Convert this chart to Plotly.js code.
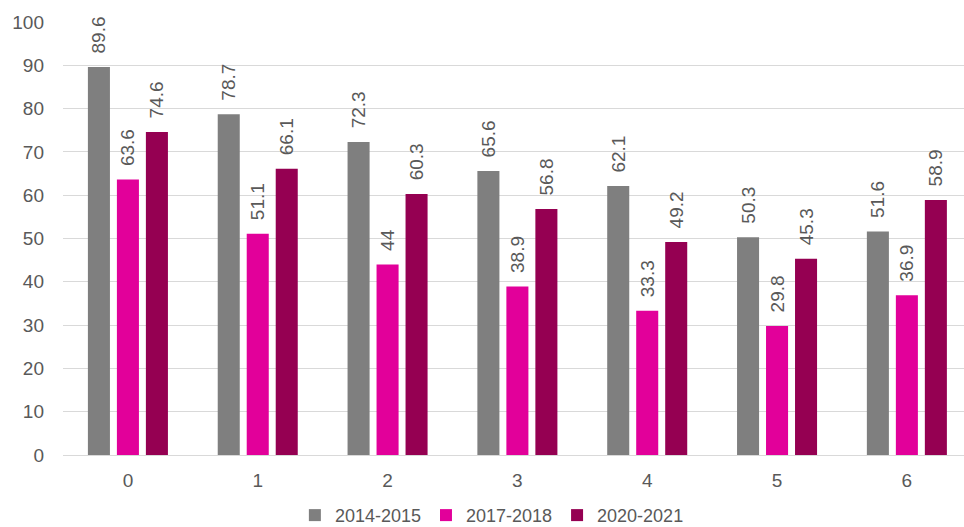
<!DOCTYPE html>
<html><head><meta charset="utf-8">
<script src="https://cdn.plot.ly/plotly-3.0.1.min.js"></script>
<style>html,body{margin:0;padding:0;background:#fff}#chart{width:964px;height:527px}</style>
</head><body><div id="chart"></div>
<script>
const categories = ['0','1','2','3','4','5','6'];
const seriesNames = ['2014-2015','2017-2018','2020-2021'];
const s2014 = [89.6, 78.7, 72.3, 65.6, 62.1, 50.3, 51.6];
const s2017 = [63.6, 51.1, 44, 38.9, 33.3, 29.8, 36.9];
const s2020 = [74.6, 66.1, 60.3, 56.8, 49.2, 45.3, 58.9];
const colors = ['#7f7f7f', '#e2009a', '#950052'];
const yTicks = [0,10,20,30,40,50,60,70,80,90,100];

const FONT = 'Liberation Sans, Arial, sans-serif';
const all = [s2014, s2017, s2020];
const traces = all.map((vals, i) => ({
  type: 'bar',
  name: seriesNames[i],
  x: categories,
  y: vals,
  marker: {color: colors[i]},
  text: vals.map(v => '\u00a0\u00a0' + String(v)),
  textposition: 'outside',
  textangle: -90,
  constraintext: 'none',
  cliponaxis: false,
  textfont: {family: FONT, size: 19, color: '#595959'},
  hoverinfo: 'none'
}));

const layout = {
  width: 964, height: 527,
  margin: {l: 63, r: 0, t: 22, b: 72},
  paper_bgcolor: '#fff', plot_bgcolor: '#fff',
  barmode: 'group', bargap: 0.33, bargroupgap: 0.24,
  font: {family: FONT, size: 19, color: '#595959'},
  xaxis: {type: 'category', range: [-0.5, 6.44], showgrid: false, zeroline: false,
          showline: false, ticks: '', ticklabelstandoff: 12, tickfont: {size: 19, color: '#595959'}},
  yaxis: {range: [0, 100], tickvals: yTicks, ticktext: yTicks.map(String),
          showgrid: true, gridcolor: '#d9d9d9', gridwidth: 1, zeroline: true, zerolinecolor: '#d9d9d9',
          zerolinewidth: 1, showline: false, ticks: '', ticklabelstandoff: 18,
          tickfont: {size: 19, color: '#595959'}},
  legend: {orientation: 'h', x: 0.476, xanchor: 'center', yref: 'container', y: 0.022, yanchor: 'middle',
           font: {size: 18, color: '#595959'}, itemwidth: 30, tracegroupgap: 0},
  showlegend: true
};
Plotly.newPlot('chart', traces, layout, {staticPlot: true});
</script></body></html>
